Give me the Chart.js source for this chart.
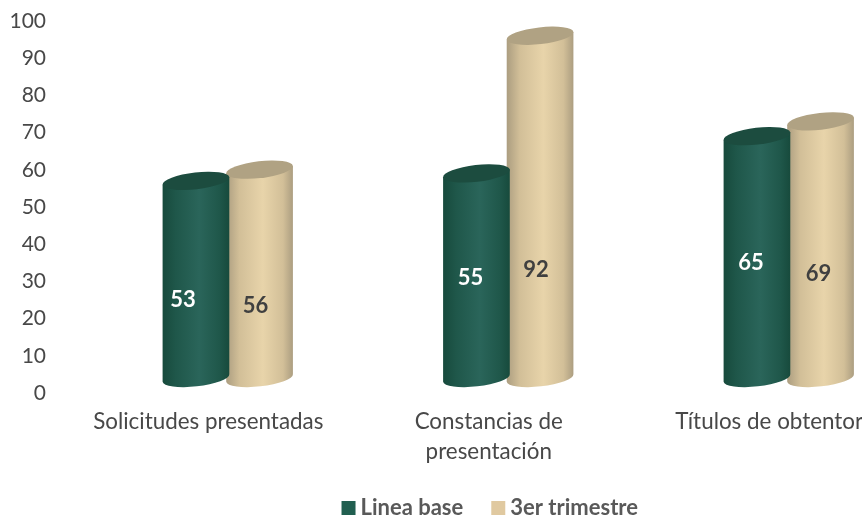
<!DOCTYPE html>
<html>
<head>
<meta charset="utf-8">
<script src="https://cdn.jsdelivr.net/npm/chart.js@4"></script>
<style>
    html, body { margin: 0; padding: 0; background: #fff; overflow: hidden; width: 862px; height: 518px; }
    #wrap { width: 862px; height: 518px; overflow: hidden; }
</style>
</head>
<body>
<div id="wrap"><canvas id="chart" width="982" height="529" style="width:982px;height:529px"></canvas></div>
<script>
const categories = ['Solicitudes presentadas', ['Constancias de', 'presentación'], 'Títulos de obtentor'];
const lineaBase = [53, 55, 65];
const tercerTrimestre = [56, 92, 69];
const yTicks = [0, 10, 20, 30, 40, 50, 60, 70, 80, 90, 100];

const fontName = 'Lato, sans-serif';

// el grafico original es 3D: las barras van corridas respecto de los ejes
const shiftX = 19.5, shiftY = -15, tilt = -6.5 * Math.PI / 180, capRatio = 0.25;
const legendShift = 38;

const looks = [
    { edge: '#174a3c', soft: '#1f574a', mid: '#2a655a', cap: '#1c4c3f', label: '#ffffff', nudge: [20, 2, 6] },
    { edge: '#ab9d80', soft: '#d2bf98', mid: '#e8d4aa', cap: '#b0a283', label: '#404040', nudge: [32, 63, 24] }
];
const labelShiftX = [[-13, -6, -6], [-4, -4, -2]];

function cylinder(ctx, bar, look) {
    const rx = bar.width * 1.055 / 2, ry = rx * capRatio;
    const cx = bar.x + shiftX, top = bar.y + shiftY, bottom = bar.base + shiftY;
    const dx = rx * Math.cos(tilt), dy = rx * Math.sin(tilt);

    const g = ctx.createLinearGradient(cx - rx, 0, cx + rx, 0);
    g.addColorStop(0, look.edge);
    g.addColorStop(0.2, look.soft);
    g.addColorStop(0.55, look.mid);
    g.addColorStop(0.85, look.soft);
    g.addColorStop(1, look.edge);

    ctx.beginPath();
    ctx.moveTo(cx - dx, top - dy);
    ctx.lineTo(cx - dx, bottom - dy);
    ctx.ellipse(cx, bottom, rx, ry, tilt, Math.PI, 0, true);
    ctx.lineTo(cx + dx, top + dy);
    ctx.closePath();
    ctx.fillStyle = g;
    ctx.fill();

    ctx.beginPath();
    ctx.ellipse(cx, top, rx, ry, tilt, 0, Math.PI * 2);
    ctx.fillStyle = look.cap;
    ctx.fill();
}

const cylinderPlugin = {
    id: 'cylinder',
    afterLayout(chart) {
        chart.legend.left += legendShift;
        chart.legend.right += legendShift;
    },
    beforeDatasetDraw(chart, args) {
        const ctx = chart.ctx;
        ctx.save();
        args.meta.data.forEach(bar => cylinder(ctx, bar, looks[args.index]));
        ctx.restore();
        return false;
    },
    afterDatasetsDraw(chart) {
        const ctx = chart.ctx;
        ctx.save();
        ctx.font = 'bold 22px ' + fontName;
        ctx.textAlign = 'center';
        ctx.textBaseline = 'middle';
        chart.data.datasets.forEach((ds, i) => {
            chart.getDatasetMeta(i).data.forEach((bar, j) => {
                const mid = (bar.y + bar.base) / 2 + shiftY;
                ctx.fillStyle = looks[i].label;
                ctx.fillText(ds.data[j], bar.x + shiftX + labelShiftX[i][j], mid + looks[i].nudge[j]);
            });
        });
        ctx.restore();
    }
};

new Chart(document.getElementById('chart').getContext('2d'), {
    type: 'bar',
    data: {
        labels: categories,
        datasets: [
            { label: 'Linea base', data: lineaBase, backgroundColor: '#215f50' },
            { label: '3er trimestre', data: tercerTrimestre, backgroundColor: '#e0c9a0' }
        ]
    },
    options: {
        responsive: false,
        animation: false,
        categoryPercentage: 0.4536,
        barPercentage: 1,
        layout: { autoPadding: false, padding: { left: 0, right: 72.5, top: 21, bottom: 0 } },
        scales: {
            x: {
                grid: { display: false },
                border: { display: false },
                ticks: { color: '#484848', font: { family: fontName, size: 22.4, lineHeight: 1.34 }, maxRotation: 0, padding: 6 },
                afterFit(scale) { scale.height = 70; }
            },
            y: {
                min: 0,
                max: 100,
                afterBuildTicks(scale) { scale.ticks = yTicks.map(v => ({ value: v })); },
                grid: { display: false, tickLength: 22 },
                border: { display: false },
                ticks: { color: '#484848', font: { family: fontName, size: 21 }, padding: 0 },
                afterFit(scale) { scale.width = 68; }
            }
        },
        plugins: {
            legend: {
                position: 'bottom',
                labels: {
                    color: '#595959',
                    font: { family: fontName, size: 22, weight: 'bold' },
                    usePointStyle: true,
                    pointStyle: 'rect',
                    boxWidth: 2,
                    boxHeight: 14,
                    padding: 34
                }
            },
            tooltip: { enabled: false }
        }
    },
    plugins: [cylinderPlugin]
});
</script>
</body>
</html>
